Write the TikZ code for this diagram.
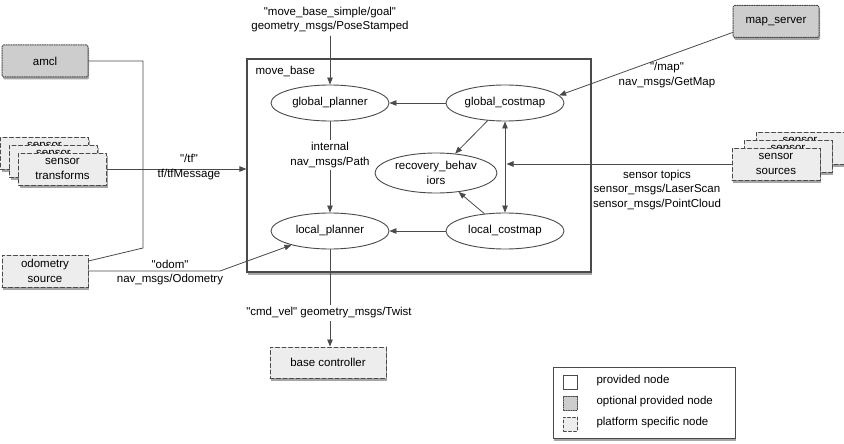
\documentclass[tikz,border=0pt]{standalone}
\usepackage{fontspec}
\setmainfont{Liberation Sans}[Ligatures=TeXOff]
\usetikzlibrary{arrows.meta,shapes.geometric,shadows}

\definecolor{optgray}{HTML}{CDCDCD}
\definecolor{platgray}{HTML}{EDEDED}
\definecolor{edgegray}{HTML}{4A4A4A}

\begin{document}
\begin{tikzpicture}[x=1pt, y=-1pt, line cap=round,
  font=\fontsize{11.5}{14.5}\selectfont,
  shad/.style={drop shadow={shadow xshift=1pt, shadow yshift=-2.5pt, fill=black, opacity=0.35}},
  optbox/.style={draw=edgegray, line width=1pt, dash pattern=on 1.2pt off 1.2pt, fill=optgray,
    rounded corners=1.5pt, minimum width=86pt, minimum height=32pt, align=center, shad},
  platbox/.style={draw=edgegray, line width=1pt, dash pattern=on 4pt off 2.5pt, fill=platgray,
    minimum width=88pt, minimum height=32pt, inner sep=1pt, align=center, shad},
  proc/.style={ellipse, draw=edgegray, line width=0.9pt, minimum width=118pt, minimum height=36pt,
    inner sep=0pt, align=center},
  msg/.style={-{Triangle[length=7pt,width=5.5pt]}, line width=0.8pt, draw=edgegray},
  lbl/.style={align=center}]
\useasboundingbox (0,0) rectangle (844,444);
\def\tip{{Triangle[length=7pt,width=5.5pt]}}
\node[draw=edgegray, line width=1.2pt, fill=white, minimum width=344pt, minimum height=213pt, shad]
  (movebase) at (419,165.5) {};
\node[anchor=west] (mbname) at (252,71) {move\_base};
\node[proc] (gplan) at (330,103) {global\_planner};
\node[proc] (gcost) at (505,103) {global\_costmap};
\node[proc, minimum width=122pt, minimum height=40pt] (recov) at (436,173) {recovery\_behav\\iors};
\node[proc] (lplan) at (330,231) {local\_planner};
\node[proc] (lcost) at (505,231) {local\_costmap};
\node[optbox] (amcl) at (45,61) {amcl};
\node[optbox] (mapsrv) at (776,21.5) {map\_server};
\node[platbox] (tfback) at (44.5,153) {sensor\\transforms};
\node[platbox] (tfmid) at (53.5,161) {sensor\\transforms};
\node[platbox] (sensortf) at (62.5,169) {sensor\\transforms};
\node[platbox] (srcback) at (800,148) {sensor\\sources};
\node[platbox] (srcmid) at (788,156) {sensor\\sources};
\node[platbox] (srcfront) at (776,164) {sensor\\sources};
\node[platbox, minimum width=86pt] (odomsrc) at (45,271) {odometry\\source};
\node[platbox, minimum width=116pt, minimum height=31pt] (basectl) at (328,362.5) {base controller};
\coordinate (goaltop) at (330,36);
\draw[msg] (goaltop) -- (gplan.north);
\node[lbl] (goallbl) at (330,19.5) {"move\_base\_simple/goal"\\geometry\_msgs/PoseStamped};
\draw[msg] (gcost) -- (gplan);
\draw[msg] (gcost) -- (recov);
\draw[msg] (lcost) -- (recov);
\draw[msg] (lcost) -- (lplan);
\draw[msg, \tip-\tip] (gcost.south) -- (lcost.north);
\draw[msg] (gplan) -- (lplan);
\node[lbl, fill=white, inner sep=2pt] (pathlbl) at (330,155) {internal\\nav\_msgs/Path};
\draw[msg, shorten >=1.5pt] (srcfront.west) -- (srcfront.west -| gcost.south);
\node[lbl] (senslbl) at (657,190) {sensor topics\\sensor\_msgs/LaserScan\\sensor\_msgs/PointCloud};
\draw[msg] ([yshift=-11pt]mapsrv.west) -- (gcost.8);
\node[lbl] (maplbl) at (667,75) {"/map"\\nav\_msgs/GetMap};
\draw[msg] (sensortf.east) -- (sensortf.east -| movebase.west);
\node (tflbl) at (189,158) {"/tf"};
\node (tfmsg) at (189,175) {tf/tfMessage};
\coordinate (amclbend) at (143,248);
\draw[draw=edgegray, line width=0.8pt] (amcl.east) -| (amclbend) -- ([yshift=10pt]odomsrc.east);
\coordinate (odombend) at (220,271);
\draw[msg] (odomsrc.east) -- (odombend) -- (lplan.200);
\node (odomlbl) at (170,264) {"odom"};
\node (odommsg) at (170,280) {nav\_msgs/Odometry};
\draw[msg] (lplan.south) -- (lplan.south |- basectl.north);
\node[fill=white, inner sep=3pt] (cmdlbl) at (329,313) {"cmd\_vel" geometry\_msgs/Twist};
\node[draw=edgegray, line width=1pt, fill=white, minimum width=182pt, minimum height=71pt, shad]
  (legend) at (644,402.5) {};
\node[draw=edgegray, line width=0.9pt, minimum size=14pt, inner sep=0pt] (keyprov) at (570.5,382.5) {};
\node[draw=edgegray, line width=0.9pt, dash pattern=on 1.2pt off 1.2pt, fill=optgray,
  minimum size=14pt, inner sep=0pt] (keyopt) at (570.5,403) {};
\node[draw=edgegray, line width=0.9pt, dash pattern=on 3pt off 2pt, fill=platgray,
  minimum size=14pt, inner sep=0pt] (keyplat) at (570.5,424) {};
\node[anchor=west] (txtprov) at (593,381) {provided node};
\node[anchor=west] (txtopt) at (593,402) {optional provided node};
\node[anchor=west] (txtplat) at (593,423) {platform specific node};
\end{tikzpicture}
\end{document}
